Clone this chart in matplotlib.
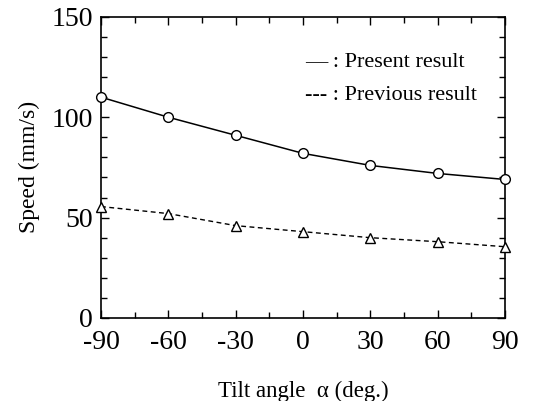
import matplotlib
matplotlib.use("Agg")
import matplotlib.pyplot as plt
from matplotlib.ticker import MultipleLocator

angles = [-90, -60, -30, 0, 30, 60, 90]
present = [110, 100, 91, 82, 76, 72, 69]
previous = [55.5, 52, 46, 43, 40, 38, 35.5]
xticks = [-90, -60, -30, 0, 30, 60, 90]
yticks = [0, 50, 100, 150]

plt.rcParams['font.family'] = ['Liberation Serif', 'DejaVu Serif']

fig = plt.figure(figsize=(5.43, 4.01), dpi=100)
ax = fig.add_axes([0.186, 0.207, 0.744, 0.751])

ax.plot(angles, present, '-', color='black', lw=1.1, marker='o', ms=7,
        mfc='white', mec='black', mew=1.0, clip_on=False, zorder=3)
ax.plot(angles, previous, '--', color='black', lw=1.0, dashes=(3.5, 2.5), marker='^', ms=7,
        mfc='white', mec='black', mew=1.0, clip_on=False, zorder=3)

ax.set_xlim(-90, 90)
ax.set_ylim(0, 150)
ax.set_xticks(xticks)
ax.set_yticks(yticks)
ax.set_xticklabels([str(t) for t in xticks])
ax.xaxis.set_minor_locator(MultipleLocator(15))
ax.yaxis.set_minor_locator(MultipleLocator(10))
ax.tick_params(which='both', direction='in', top=True, right=True, labelsize=20, width=1.0)
ax.tick_params(which='major', length=6)
ax.tick_params(axis='x', which='major', pad=9)
ax.tick_params(axis='y', which='major', pad=6)
ax.tick_params(which='minor', length=4)
for s in ax.spines.values():
    s.set_linewidth(1.2)

ax.set_xlabel('Tilt angle  α (deg.)', fontsize=16.5, labelpad=18)
ax.set_ylabel('Speed (mm/s)', fontsize=17, labelpad=8)

ax.text(0.505, 0.848, '— : Present result', transform=ax.transAxes, fontsize=16, va='center', ha='left')
ax.text(0.505, 0.738, '--- : Previous result', transform=ax.transAxes, fontsize=16, va='center', ha='left')

fig.savefig('out.png', dpi=100)
